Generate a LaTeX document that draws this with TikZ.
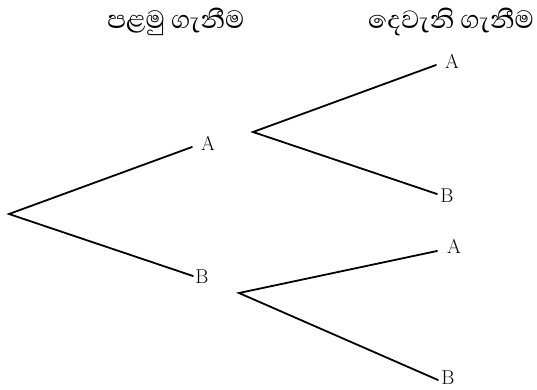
\documentclass[tikz,border=0pt]{standalone}
\usepackage{fontspec}
\newfontfamily\sinhala[Script=Sinhala]{Abhaya Libre}
\begin{document}
\begin{tikzpicture}[x=1pt,y=-1pt,
  branch/.style={line width=1.8pt,line cap=round},
  lbl/.style={inner sep=0pt,font=\fontsize{20}{22}\selectfont},
  head/.style={inner sep=0pt,font=\sinhala\fontsize{32}{36}\selectfont}]
\useasboundingbox (0,0) rectangle (537,389);
\node[head] (h1) at (176,22) {පළමු ගැනීම};
\node[head] (h2) at (451,22) {දෙවැනි ගැනීම};
\coordinate (r) at (9,214);
\coordinate (a1e) at (192,147);
\coordinate (b1e) at (193,276);
\coordinate (a1) at (253,132);
\coordinate (b1) at (239,293);
\coordinate (aae) at (436,65);
\coordinate (abe) at (437,194);
\coordinate (bae) at (437,251);
\coordinate (bbe) at (438,380);
\node[lbl] (LA1) at (208,143) {A};
\node[lbl] (LB1) at (202,277) {B};
\node[lbl] (LAA) at (452,61) {A};
\node[lbl] (LAB) at (447,196) {B};
\node[lbl] (LBA) at (454,246) {A};
\node[lbl] (LBB) at (448,378) {B};
\draw[branch] (a1e) -- (r) -- (b1e);
\draw[branch] (aae) -- (a1) -- (abe);
\draw[branch] (bae) -- (b1) -- (bbe);
\end{tikzpicture}
\end{document}
